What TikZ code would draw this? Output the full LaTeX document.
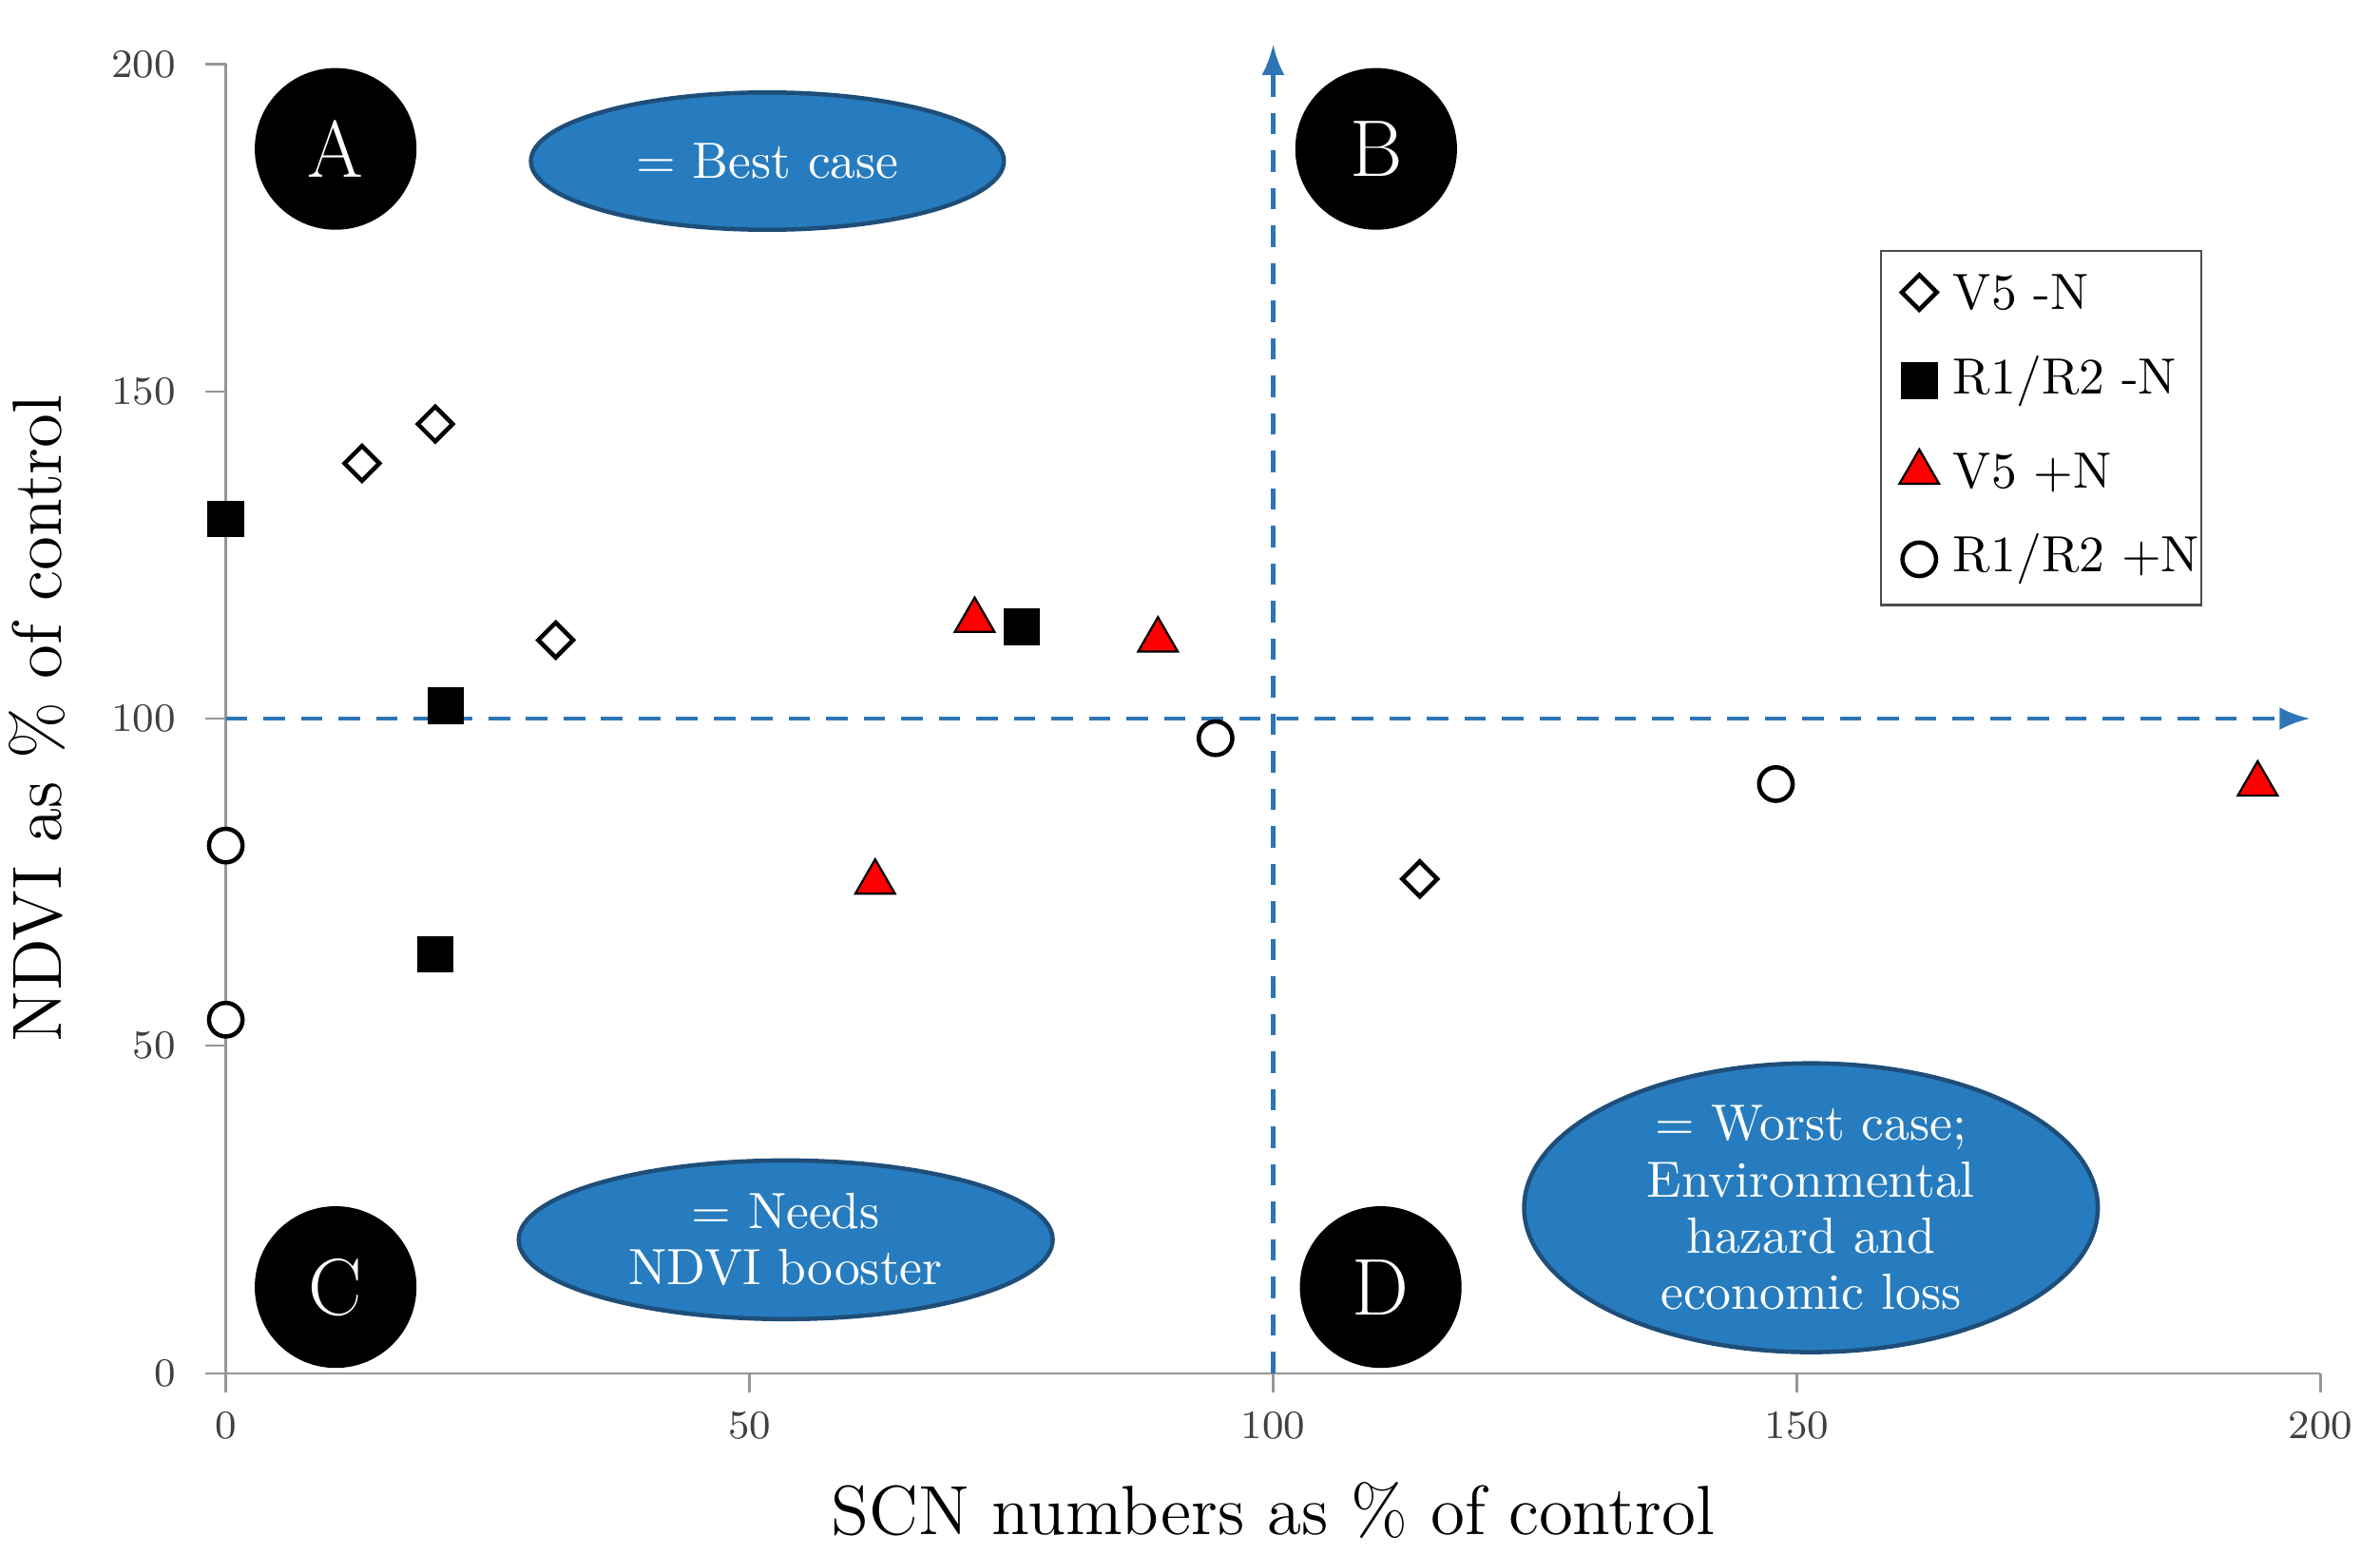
\documentclass[tikz,border=0pt]{standalone}
\usepackage{tikz}
\usetikzlibrary{arrows.meta,shapes.geometric}
\definecolor{quadblue}{RGB}{46,117,182}
\definecolor{ellblue}{RGB}{38,124,190}
\definecolor{ellline}{RGB}{30,78,121}
\definecolor{axgray}{RGB}{150,150,150}
\tikzset{
  quadlabel/.style={circle,fill=black,minimum size=1.06cm,inner sep=0pt,text=white,font=\fontsize{15}{15}\selectfont},
  casebubble/.style={ellipse,fill=ellblue,draw=ellline,thick,text=white,align=center,font=\fontsize{9.5}{10.5}\selectfont,inner sep=0pt},
  splitline/.style={quadblue,thick,dash pattern=on 4pt off 3pt,-{Latex[length=2mm]}},
  tick/.style={font=\fontsize{7.5}{8}\selectfont,text=black!75},
  mdiamond/.style={diamond,draw=black,thick,fill=white,minimum size=0.24cm,inner sep=0pt},
  msquare/.style={rectangle,fill=black,minimum size=0.24cm,inner sep=0pt},
  mtriangle/.style={regular polygon,regular polygon sides=3,draw=black,fill=red,minimum size=0.3cm,inner sep=0pt},
  mcircle/.style={circle,draw=black,thick,fill=white,minimum size=0.22cm,inner sep=0pt},
}
\begin{document}
\begin{tikzpicture}
\useasboundingbox (0,0) rectangle (15.6,10.186);

% === Plot area: data coordinates ===
\begin{scope}[shift={(1.48,1.186)},x=0.6865mm,y=0.429mm]
    % Axes
    \draw[axgray] (0,0) -- (200,0);
    \draw[axgray] (0,0) -- (0,200);
    \foreach \v in {0,50,100,150,200}{
        \draw[axgray] (\v,0) -- (\v,-3);
        \node[tick,below] at (\v,-3) {\v};
        \draw[axgray] (0,\v) -- (-2,\v);
        \node[tick,left] at (-3,\v) {\v};
    }
    \node[font=\fontsize{13}{13}\selectfont] at (100,-21) {SCN numbers as \% of control};
    \node[font=\fontsize{13}{13}\selectfont,rotate=90] at (-18,100) {NDVI as \% of control};

    % Quadrant split lines
    \coordinate (vbot) at (100,0);
    \coordinate (vtop) at (100,203);
    \coordinate (hleft) at (0,100);
    \coordinate (hright) at (199,100);
    \draw[splitline] (vbot) -- (vtop);
    \draw[splitline] (hleft) -- (hright);

    % V5 -N
    \node[mdiamond] (d1) at (13,139) {};
    \node[mdiamond] (d2) at (20,145) {};
    \node[mdiamond] (d3) at (31.5,112) {};
    \node[mdiamond] (d4) at (114,75.5) {};
    % R1/R2 -N
    \node[msquare] (s1) at (0,130.5) {};
    \node[msquare] (s2) at (21,102) {};
    \node[msquare] (s3) at (20,64) {};
    \node[msquare] (s4) at (76,114) {};
    % V5 +N
    \node[mtriangle] (t1) at (71.5,115) {};
    \node[mtriangle] (t2) at (89,112) {};
    \node[mtriangle] (t3) at (62,75) {};
    \node[mtriangle] (t4) at (194,90) {};
    % R1/R2 +N
    \node[mcircle] (c1) at (0,80.6) {};
    \node[mcircle] (c2) at (0,54) {};
    \node[mcircle] (c3) at (94.5,97) {};
    \node[mcircle] (c4) at (148,90) {};
\end{scope}

% === Quadrant labels ===
\node[quadlabel] (qA) at (2.20,9.21) {A};
\node[quadlabel] (qB) at (9.02,9.21) {B};
\node[quadlabel] (qC) at (2.20,1.75) {C};
\node[quadlabel] (qD) at (9.05,1.75) {D};

% === Case bubbles ===
\node[casebubble,minimum width=3.1cm,minimum height=0.9cm] (best) at (5.03,9.13) {= Best case};
\node[casebubble,minimum width=3.5cm,minimum height=1.04cm] (needs) at (5.15,2.06) {= Needs\\NDVI booster};
\node[casebubble,minimum width=3.76cm,minimum height=1.76cm] (worst) at (11.87,2.27) {= Worst case;\\Environmental\\hazard and\\economic loss};

% === Legend ===
\draw[black!70,fill=white] (12.33,6.22) rectangle (14.43,8.54);
\begin{scope}[font=\fontsize{9.5}{10}\selectfont]
    \node[mdiamond] (lg1) at (12.58,8.27) {};
    \node[right,inner sep=1pt] at (12.76,8.27) {V5 -N};
    \node[msquare] (lg2) at (12.58,7.69) {};
    \node[right,inner sep=1pt] at (12.76,7.69) {R1/R2 -N};
    \node[mtriangle] (lg3) at (12.58,7.09) {};
    \node[right,inner sep=1pt] at (12.76,7.09) {V5 +N};
    \node[mcircle] (lg4) at (12.58,6.52) {};
    \node[right,inner sep=1pt] at (12.76,6.52) {R1/R2 +N};
\end{scope}

\end{tikzpicture}
\end{document}
